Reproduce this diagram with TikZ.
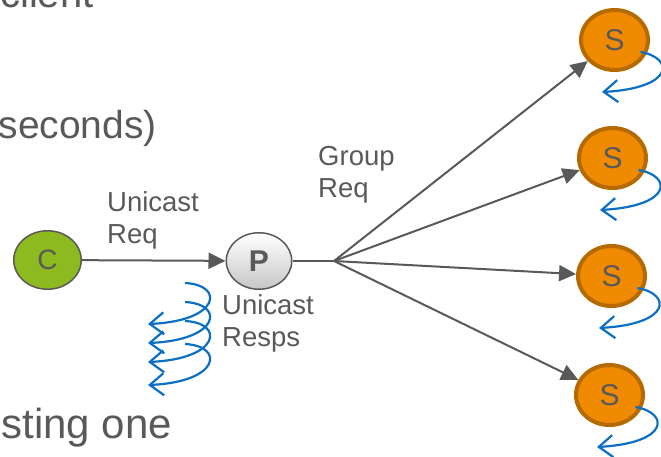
\documentclass[tikz,border=0pt]{standalone}
\usepackage{fontspec}
\setmainfont{Liberation Sans}
\usetikzlibrary{positioning,arrows.meta,calc,shapes.geometric}
\definecolor{txtgray}{HTML}{595959}
\definecolor{wiregray}{HTML}{595959}
\definecolor{cgreen}{HTML}{8CBA1F}
\definecolor{sorange}{HTML}{F08A00}
\definecolor{sbrown}{HTML}{B56A00}
\definecolor{respblue}{HTML}{0B70C4}
\tikzset{
    client/.style = {
        draw=wiregray,
        shape=ellipse,
        fill=cgreen,
        minimum width=67.5pt,
        minimum height=58.5pt,
        inner sep=0pt,
        line width=1.5pt,
        text=txtgray,
        font=\fontsize{28}{32}\selectfont
    },
    proxy/.style = {
        draw=wiregray,
        shape=ellipse,
        top color=white,
        bottom color=black!22,
        minimum width=65.5pt,
        minimum height=56.5pt,
        inner sep=0pt,
        line width=1.5pt,
        text=txtgray,
        font=\fontsize{30}{34}\selectfont\bfseries
    },
    server/.style = {
        draw=sbrown,
        shape=ellipse,
        fill=sorange,
        minimum width=67pt,
        minimum height=60pt,
        inner sep=0pt,
        line width=4pt,
        text=txtgray,
        font=\fontsize{30}{34}\selectfont
    },
    lbl/.style = {
        align=left,
        inner sep=0pt,
        text=txtgray,
        font=\fontsize{27.5}{31.5}\selectfont
    },
    bigtext/.style = {
        inner sep=0pt,
        text=txtgray
    },
    wire/.style = {
        color=wiregray,
        line width=2pt
    },
    resp/.style = {
        color=respblue,
        line width=2.2pt,
        -{Straight Barb[length=14pt,width=22pt]}
    },
    >={Triangle[length=17pt,width=16pt]},
}
\begin{document}
\begin{tikzpicture}[x=1pt,y=-1pt]
    \useasboundingbox (0,0) rectangle (661,456);

    \node[bigtext, anchor=base west, font=\fontsize{40}{48}\selectfont] (client) at (0,7) {client};
    \node[bigtext, anchor=base east, font=\fontsize{39}{47}\selectfont] (secs) at (157,138) {seconds)};
    \node[bigtext, anchor=base east, font=\fontsize{42}{50}\selectfont] (sting) at (172,438) {sting one};

    \node[client] (c) at (47.5,260) {C};
    \node[proxy] (p) at (259,261) {P};
    \coordinate (fan) at (334,261);
    \node[server] (s1) at (614.5,40) {S};
    \node[server] (s2) at (612.5,158) {S};
    \node[server] (s3) at (611.5,276) {S};
    \node[server] (s4) at (609.5,395) {S};

    % base of a two line label is its last line
    \node[lbl, anchor=base west] (ureq) at (107,243) {Unicast\\Req};
    \node[lbl, anchor=base west] (greq) at (318,197) {Group\\Req};
    \node[lbl, anchor=base west] (uresp) at (222,346) {Unicast\\Resps};

    \path[draw, wire, ->] (c) -- (p);
    \path[draw, wire] (p) -- (fan);
    \path[draw, wire, ->] (fan) -- (s1);
    \path[draw, wire, ->] (fan) -- (s2);
    \path[draw, wire, ->] (fan) -- (s3);
    \path[draw, wire, ->] (fan) -- (s4);

    % replies of the servers
    \foreach \s in {s1,s2,s3,s4}
        \path[draw, resp] ($(\s)+(26,12)$) .. controls ($(\s)+(60,18)$) and ($(\s)+(60,48)$) .. ($(\s)+(-12.5,52)$);

    % unicast replies back to the client
    \foreach \y in {283,302,321,344}
        \path[draw, resp] (185,\y) .. controls (225,\y+2) and (220,\y+38) .. (148,\y+41);
\end{tikzpicture}
\end{document}
